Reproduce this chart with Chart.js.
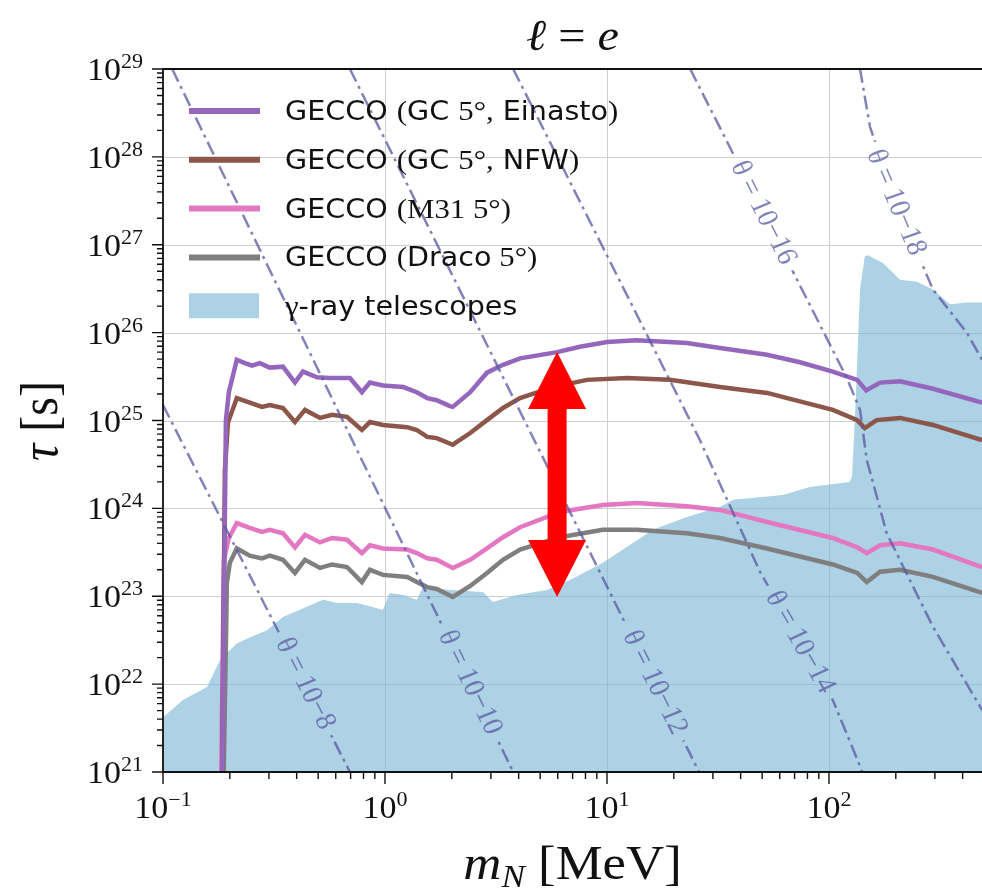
<!DOCTYPE html>
<html lang="en">
<head>
<meta charset="UTF-8">
<title>Heavy neutral lepton lifetime, l = e</title>
<script src="https://cdn.jsdelivr.net/npm/chart.js@4"></script>
<style>
  html, body { margin: 0; padding: 0; background: #fff; }
</style>
</head>
<body>
<canvas id="chart" width="982" height="889"></canvas>
<script>
// masses in MeV, lifetimes in s
const einastoMass = [0.183, 0.192, 0.198, 0.215, 0.234, 0.252, 0.273, 0.303, 0.347, 0.393, 0.427, 0.494, 0.565, 0.695, 0.787, 0.855, 0.979, 1.21, 1.39, 1.55, 1.71, 1.96, 2.02, 2.42, 2.88, 3.40, 4.06, 5.96, 7.55, 10.0, 13.6, 22.9, 32.3, 52.6, 74, 104, 134, 147, 170, 209, 294, 489];
const einastoTau = [1e20, 1.0e25, 2.1e25, 4.9e25, 4.5e25, 4.2e25, 4.5e25, 4.0e25, 4.1e25, 2.7e25, 3.6e25, 3.1e25, 3.05e25, 3.05e25, 2.1e25, 2.7e25, 2.5e25, 2.4e25, 2.1e25, 1.8e25, 1.7e25, 1.46e25, 1.43e25, 2.1e25, 3.5e25, 4.3e25, 5.1e25, 6.0e25, 6.9e25, 7.8e25, 8.2e25, 7.6e25, 6.7e25, 5.6e25, 4.6e25, 3.6e25, 2.9e25, 2.2e25, 2.7e25, 2.8e25, 2.3e25, 1.6e25];

const nfwMass = [0.183, 0.190, 0.196, 0.215, 0.246, 0.279, 0.303, 0.347, 0.393, 0.436, 0.510, 0.577, 0.674, 0.787, 0.855, 0.979, 1.26, 1.39, 1.55, 1.71, 2.02, 2.42, 2.88, 3.40, 4.06, 5.71, 8.13, 12.3, 19.2, 32.3, 52.6, 104, 134, 145, 164, 209, 294, 489];
const nfwTau = [1e20, 2.7e24, 9.4e24, 1.8e25, 1.6e25, 1.43e25, 1.5e25, 1.39e25, 9.6e24, 1.32e25, 1.07e25, 1.16e25, 1.10e25, 7.8e24, 9.6e24, 8.9e24, 8.4e24, 7.8e24, 6.5e24, 6.3e24, 5.3e24, 7.2e24, 1.01e25, 1.39e25, 1.8e25, 2.4e25, 2.9e25, 3.05e25, 2.9e25, 2.4e25, 2.06e25, 1.32e25, 1.01e25, 8.2e24, 1.01e25, 1.07e25, 8.9e24, 6.0e24];

const m31Mass = [0.181, 0.188, 0.198, 0.215, 0.246, 0.279, 0.303, 0.347, 0.393, 0.436, 0.510, 0.577, 0.674, 0.787, 0.855, 0.979, 1.26, 1.39, 1.55, 1.71, 2.02, 2.42, 2.88, 3.40, 4.06, 6.14, 9.59, 13.6, 22.9, 32.3, 52.6, 104, 134, 148, 170, 209, 294, 489];
const m31Tau = [1e20, 2.6e23, 4.6e23, 6.8e23, 6.0e23, 5.4e23, 5.7e23, 5.2e23, 3.6e23, 5.0e23, 4.1e23, 4.6e23, 4.4e23, 3.1e23, 3.8e23, 3.5e23, 3.4e23, 3.1e23, 2.7e23, 2.6e23, 2.1e23, 2.6e23, 3.5e23, 4.7e23, 6.1e23, 9.1e23, 1.09e24, 1.15e24, 1.06e24, 9.6e23, 7.0e23, 4.6e23, 3.6e23, 3.1e23, 3.8e23, 4.0e23, 3.4e23, 2.15e23];

const dracoMass = [0.185, 0.194, 0.200, 0.215, 0.246, 0.279, 0.303, 0.347, 0.393, 0.436, 0.510, 0.577, 0.674, 0.787, 0.855, 0.979, 1.26, 1.39, 1.55, 1.71, 2.02, 2.42, 2.88, 3.40, 4.06, 6.14, 9.59, 13.6, 22.9, 32.3, 52.6, 104, 134, 148, 170, 209, 294, 489];
const dracoTau = [1e20, 1.42e23, 2.4e23, 3.5e23, 2.9e23, 2.7e23, 2.9e23, 2.6e23, 1.84e23, 2.6e23, 2.1e23, 2.3e23, 2.15e23, 1.45e23, 2.0e23, 1.75e23, 1.66e23, 1.45e23, 1.27e23, 1.21e23, 9.8e22, 1.31e23, 1.84e23, 2.6e23, 3.4e23, 4.7e23, 5.7e23, 5.7e23, 5.2e23, 4.6e23, 3.5e23, 2.3e23, 1.84e23, 1.45e23, 1.9e23, 2.0e23, 1.66e23, 1.09e23];

const gammaMass = [0.1, 0.123, 0.158, 0.181, 0.215, 0.246, 0.294, 0.347, 0.414, 0.526, 0.608, 0.748, 0.979, 1.05, 1.21, 1.39, 1.48, 1.96, 2.76, 3.06, 3.93, 5.37, 6.81, 9.59, 11.4, 16.1, 22.9, 32.3, 37.0, 62.1, 82.1, 124, 127, 132, 138, 145, 150, 175, 209, 249, 294, 351, 419, 489];
const gammaTau = [4.2e21, 6.6e21, 9.3e21, 1.9e22, 2.9e22, 3.4e22, 4.1e22, 5.8e22, 7.0e22, 9.1e22, 8.4e22, 8.4e22, 7.0e22, 1.09e23, 1.03e23, 9.1e22, 1.27e23, 1.18e23, 1.12e23, 8.6e22, 1.03e23, 1.18e23, 1.53e23, 2.4e23, 3.2e23, 5.7e23, 8.0e23, 1.04e24, 1.25e24, 1.42e24, 1.75e24, 2.0e24, 2.3e24, 1.7e25, 3.1e26, 7.4e26, 7.6e26, 6.2e26, 4.0e26, 3.8e26, 3.1e26, 2.1e26, 2.2e26, 2.2e26];

// constant-mixing contours
const theta8Mass = [0.1, 0.695];
const theta8Tau = [1.5e25, 1e21];
const theta10Mass = [0.11, 3.78];
const theta10Tau = [1e29, 1e21];
const theta12Mass = [0.695, 26];
const theta12Tau = [1e29, 1e21];
const theta14Mass = [3.78, 26.2, 48.9, 104, 134, 141];
const theta14Tau = [1e29, 6.0e24, 1.9e23, 6.6e21, 1.4e21, 1e21];
const theta16Mass = [23.7, 120, 138, 148, 158, 182, 294, 489];
const theta16Tau = [1e29, 3.1e25, 1.32e25, 3.55e24, 1.95e24, 5.2e23, 4.5e22, 5.1e21];
const theta18Mass = [138, 153, 198, 294, 419, 489];
const theta18Tau = [1e29, 2.2e28, 3.2e27, 3.1e26, 9.9e25, 4.9e25];
const thetaLabels = ['θ = 10−8', 'θ = 10−10', 'θ = 10−12', 'θ = 10−14', 'θ = 10−16', 'θ = 10−18'];
const thetaLabelMass = [0.436, 2.41, 16.4, 74, 50.5, 200];

// red double arrow
const arrowMass = [5.96];
const arrowTau = [6.0e25, 9.8e22];

const xTickExp = [-1, 0, 1, 2];
const yTickExp = [21, 22, 23, 24, 25, 26, 27, 28, 29];

const SX = 1.1; // the figure is a little wider than tall
const SERIF = '"Liberation Serif", "DejaVu Serif", serif';
const SANS = '"DejaVu Sans", sans-serif';
const thetaColor = 'rgba(88, 88, 160, 0.75)';

function pairs(ms, ts) {
    return ms.map((m, i) => ({ x: m, y: ts[i] }));
}

function curve(label, color, ms, ts) {
    return {
        label: label, data: pairs(ms, ts), borderColor: color, backgroundColor: color,
        borderWidth: 4.5, pointRadius: 0, fill: false, tension: 0, order: 2, legendKind: 'line'
    };
}

function thetaLine(i, ms, ts) {
    return {
        label: thetaLabels[i], data: pairs(ms, ts), borderColor: thetaColor, borderWidth: 2.5,
        borderDash: [14, 5, 3, 5], pointRadius: 0, fill: false, tension: 0, order: 1,
        thetaText: thetaLabels[i], labelMass: thetaLabelMass[i]
    };
}

// draws text pieces side by side, stretched a bit horizontally
function runs(ctx, parts, x, y, align, rot) {
    const ws = parts.map(p => { ctx.font = p.font; return ctx.measureText(p.t).width; });
    const total = ws.reduce((a, b) => a + b, 0);
    let cx = align === 'center' ? -total / 2 : align === 'right' ? -total : 0;
    ctx.save();
    ctx.translate(x, y);
    ctx.scale(SX, 1);
    if (rot) ctx.rotate(rot);
    parts.forEach((p, i) => {
        ctx.font = p.font;
        ctx.fillText(p.t, cx, p.dy || 0);
        cx += ws[i];
    });
    ctx.restore();
}

function powParts(e) {
    const s = e < 0 ? '−' + Math.abs(e) : String(e);
    return [{ t: '10', font: '31px ' + SERIF }, { t: s, font: '20px ' + SERIF, dy: -12 }];
}

// where a label sits on its contour, and how it is turned
function labelPlace(chart, ds) {
    const xs = chart.scales.x, ys = chart.scales.y;
    const d = ds.data, m = ds.labelMass;
    let i = 0;
    while (i < d.length - 2 && d[i + 1].x < m) i++;
    const f = (Math.log10(m) - Math.log10(d[i].x)) / (Math.log10(d[i + 1].x) - Math.log10(d[i].x));
    const lt = Math.log10(d[i].y) + f * (Math.log10(d[i + 1].y) - Math.log10(d[i].y));
    const px = xs.getPixelForValue(m), py = ys.getPixelForValue(Math.pow(10, lt));
    const dx = xs.getPixelForValue(d[i + 1].x) - xs.getPixelForValue(d[i].x);
    const dy = ys.getPixelForValue(d[i + 1].y) - ys.getPixelForValue(d[i].y);
    return { px, py, a: Math.atan2(dy, dx / SX) };
}

const LABEL_FONT = '27px ' + SERIF;

const decor = {
    id: 'decor',
    beforeDatasetsDraw(chart) {
        const ctx = chart.ctx, a = chart.chartArea;
        const xs = chart.scales.x, ys = chart.scales.y;
        ctx.save();
        ctx.strokeStyle = '#cfcfcf';
        ctx.lineWidth = 1;
        xTickExp.forEach(e => {
            const x = Math.round(xs.getPixelForValue(Math.pow(10, e))) + 0.5;
            ctx.beginPath(); ctx.moveTo(x, a.top); ctx.lineTo(x, a.bottom); ctx.stroke();
        });
        yTickExp.forEach(e => {
            const y = Math.round(ys.getPixelForValue(Math.pow(10, e))) + 0.5;
            ctx.beginPath(); ctx.moveTo(a.left, y); ctx.lineTo(a.right, y); ctx.stroke();
        });
        ctx.restore();
    },
    beforeDatasetDraw(chart, args) {
        const ds = chart.data.datasets[args.index];
        if (!ds.thetaText) return;
        const ctx = chart.ctx;
        ctx.save();
        ctx.beginPath();
        ctx.rect(0, 0, chart.width, chart.height);
        ctx.font = LABEL_FONT;
        chart.data.datasets.forEach(d => {
            if (!d.thetaText) return;
            const p = labelPlace(chart, d);
            const w = ctx.measureText(d.thetaText).width / 2 + 8, h = 13;
            const c = Math.cos(p.a), s = Math.sin(p.a);
            const pts = [[-w, -h], [w, -h], [w, h], [-w, h]].map(([u, v]) =>
                [p.px + SX * (u * c - v * s), p.py + (u * s + v * c)]);
            ctx.moveTo(pts[0][0], pts[0][1]);
            pts.slice(1).forEach(q => ctx.lineTo(q[0], q[1]));
            ctx.closePath();
        });
        ctx.clip('evenodd');
    },
    afterDatasetDraw(chart, args) {
        const ds = chart.data.datasets[args.index];
        if (ds.thetaText) chart.ctx.restore();
    },
    afterDatasetsDraw(chart) {
        const ctx = chart.ctx, a = chart.chartArea;
        const xs = chart.scales.x, ys = chart.scales.y;
        ctx.save();

        // contour labels
        ctx.fillStyle = thetaColor;
        ctx.textBaseline = 'middle';
        chart.data.datasets.forEach(d => {
            if (!d.thetaText) return;
            const p = labelPlace(chart, d);
            runs(ctx, [{ t: d.thetaText, font: LABEL_FONT }], p.px, p.py, 'center', p.a);
        });
        ctx.textBaseline = 'alphabetic';

        // arrow
        const ax = xs.getPixelForValue(arrowMass[0]);
        const top = ys.getPixelForValue(arrowTau[0]), bot = ys.getPixelForValue(arrowTau[1]);
        const hw = 29, hl = 57, sw = 9.5;
        ctx.fillStyle = '#ff0000';
        ctx.beginPath();
        ctx.moveTo(ax, top);
        ctx.lineTo(ax + hw, top + hl); ctx.lineTo(ax + sw, top + hl);
        ctx.lineTo(ax + sw, bot - hl); ctx.lineTo(ax + hw, bot - hl);
        ctx.lineTo(ax, bot);
        ctx.lineTo(ax - hw, bot - hl); ctx.lineTo(ax - sw, bot - hl);
        ctx.lineTo(ax - sw, top + hl); ctx.lineTo(ax - hw, top + hl);
        ctx.closePath();
        ctx.fill();

        // spines
        ctx.strokeStyle = '#111';
        ctx.lineWidth = 1.8;
        ctx.beginPath();
        ctx.moveTo(a.right, a.top); ctx.lineTo(a.left, a.top);
        ctx.lineTo(a.left, a.bottom); ctx.lineTo(a.right, a.bottom);
        ctx.stroke();

        // ticks
        ctx.lineWidth = 1.4;
        ctx.beginPath();
        for (let e = -1; e <= 2; e++) {
            for (let k = 1; k <= 9; k++) {
                const v = k * Math.pow(10, e);
                if (v > xs.max) break;
                const x = xs.getPixelForValue(v);
                ctx.moveTo(x, a.bottom); ctx.lineTo(x, a.bottom + (k === 1 ? 12 : 7));
            }
        }
        for (let e = 21; e <= 29; e++) {
            for (let k = 1; k <= 9; k++) {
                const v = k * Math.pow(10, e);
                if (v > ys.max) break;
                const y = ys.getPixelForValue(v);
                ctx.moveTo(a.left, y); ctx.lineTo(a.left - (k === 1 ? 11 : 6), y);
            }
        }
        ctx.stroke();

        // tick labels
        ctx.fillStyle = '#111';
        xTickExp.forEach(e => runs(ctx, powParts(e), xs.getPixelForValue(Math.pow(10, e)), a.bottom + 46, 'center'));
        yTickExp.forEach(e => runs(ctx, powParts(e), a.left - 20, ys.getPixelForValue(Math.pow(10, e)) + 11, 'right'));

        // axis titles and title
        runs(ctx, [{ t: 'm', font: 'italic 48px ' + SERIF }, { t: 'N', font: 'italic 32px ' + SERIF, dy: 8 },
                   { t: ' [MeV]', font: '48px ' + SERIF }], (a.left + a.right) / 2, 879, 'center');
        ctx.textBaseline = 'middle';
        runs(ctx, [{ t: 'τ', font: 'italic 48px ' + SERIF }, { t: ' [s]', font: '48px ' + SERIF }], 43, 421, 'center', -Math.PI / 2);
        ctx.textBaseline = 'alphabetic';
        runs(ctx, [{ t: 'ℓ', font: 'italic 44px ' + SERIF }, { t: ' = ', font: '44px ' + SERIF },
                   { t: 'e', font: 'italic 44px ' + SERIF }], (a.left + a.right) / 2, 50, 'center');

        // legend
        const items = chart.data.datasets.filter(d => d.legendKind);
        items.forEach((d, i) => {
            const y = a.top + 42 + i * 48.8;
            if (d.legendKind === 'line') {
                ctx.strokeStyle = d.borderColor;
                ctx.lineWidth = 6;
                ctx.beginPath(); ctx.moveTo(a.left + 26, y); ctx.lineTo(a.left + 97, y); ctx.stroke();
            } else {
                ctx.fillStyle = d.backgroundColor;
                ctx.fillRect(a.left + 26, y - 13, 70, 25);
            }
            ctx.fillStyle = '#111';
            const parts = d.label.split('$').map((t, j) => ({
                t: t, font: j % 2 ? '28px ' + SERIF : '26px ' + SANS
            })).filter(p => p.t.length);
            runs(ctx, parts, a.left + 122, y + 9, 'left');
        });
        ctx.restore();
    }
};

new Chart(document.getElementById('chart'), {
    type: 'line',
    data: {
        datasets: [
            curve('GECCO $($GC $5°,$ Einasto$)$', '#9467bd', einastoMass, einastoTau),
            curve('GECCO $($GC $5°,$ NFW$)$', '#8c564b', nfwMass, nfwTau),
            curve('GECCO $(M31 5°)$', '#e377c2', m31Mass, m31Tau),
            curve('GECCO $($Draco$ 5°)$', '#7f7f7f', dracoMass, dracoTau),
            {
                label: '$γ$-ray telescopes', data: pairs(gammaMass, gammaTau),
                borderWidth: 0, borderColor: 'rgba(0,0,0,0)', backgroundColor: 'rgba(118, 178, 212, 0.6)',
                pointRadius: 0, fill: 'start', tension: 0, order: 3, legendKind: 'patch'
            },
            thetaLine(0, theta8Mass, theta8Tau),
            thetaLine(1, theta10Mass, theta10Tau),
            thetaLine(2, theta12Mass, theta12Tau),
            thetaLine(3, theta14Mass, theta14Tau),
            thetaLine(4, theta16Mass, theta16Tau),
            thetaLine(5, theta18Mass, theta18Tau)
        ]
    },
    options: {
        responsive: false,
        animation: false,
        layout: { padding: { left: 163, top: 69, right: 0, bottom: 117 } },
        plugins: { legend: { display: false }, tooltip: { enabled: false } },
        scales: {
            x: { type: 'logarithmic', min: 0.1, max: 489, display: false },
            y: { type: 'logarithmic', min: 1e21, max: 1e29, display: false }
        }
    },
    plugins: [decor]
});
</script>
</body>
</html>
